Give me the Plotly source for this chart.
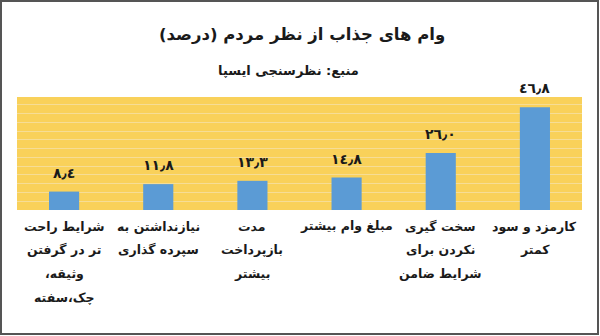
import plotly.graph_objects as go

categories = [
    "شرایط راحت<br>تر در گرفتن<br>وثیقه،\u200f<br>چک،سفته",
    "نیازنداشتن به<br>سپرده گذاری",
    "مدت<br>بازپرداخت<br>بیشتر",
    "مبلغ وام بیشتر",
    "سخت گیری<br>نکردن برای<br>شرایط ضامن",
    "کارمزد و سود<br>کمتر",
]
values = [8.4, 11.8, 13.3, 14.8, 26.0, 46.8]
title_text = "\u200fوام های جذاب از نظر مردم (درصد)\u200f"
subtitle_text = "منبع: نظرسنجی ایسپا"

digits = str.maketrans("0123456789.", "٠١٢٣٤٥٦٧٨٩٫")
value_labels = [f"{v:.1f}".translate(digits) for v in values]

W, H = 600, 336
ML, MR, MT, MB = 17, 18, 97, 126
PW, PH = W - ML - MR, H - MT - MB

FONT = "DejaVu Sans, sans-serif"
TXT = "#1a1a1a"

fig = go.Figure()
fig.add_trace(go.Bar(
    x=categories, y=values,
    marker=dict(color="#5B9BD5", line=dict(width=0)),
    hoverinfo="skip",
))

for c, v, t in zip(categories, values, value_labels):
    fig.add_annotation(x=c, y=v, text=f"<b>{t}</b>", showarrow=False,
                       yanchor="bottom", yshift=9,
                       font=dict(family=FONT, size=14, color=TXT))

# category labels, one annotation per line for wider line spacing
LINE0, LINESTEP = 16, 23.7
for c in categories:
    for i, line in enumerate(c.split("<br>")):
        fig.add_annotation(x=c, xref="x", yref="paper",
                           y=-(LINE0 + i * LINESTEP) / PH,
                           text=f"<b>{line}</b>", showarrow=False,
                           xanchor="center", yanchor="middle",
                           font=dict(family=FONT, size=12.5, color=TXT))

fig.add_annotation(xref="paper", yref="paper", x=(302 - ML) / PW, y=(MT + PH - 35) / PH,
                   text=f"<b>{title_text}</b>", showarrow=False,
                   xanchor="center", yanchor="middle",
                   font=dict(family=FONT, size=16.5, color=TXT))
fig.add_annotation(xref="paper", yref="paper", x=(288 - ML) / PW, y=(MT + PH - 70) / PH,
                   text=f"<b>{subtitle_text}</b>", showarrow=False,
                   xanchor="center", yanchor="middle",
                   font=dict(family=FONT, size=13, color=TXT))

# outer frame
fig.add_shape(type="rect", xref="paper", yref="paper",
              x0=(1 - ML) / PW, x1=(W - 2 - ML) / PW,
              y0=(MT + PH - (H - 2)) / PH, y1=(MT + PH - 1) / PH,
              line=dict(color="#555555", width=2), fillcolor="rgba(0,0,0,0)", layer="above")

fig.update_layout(
    width=W, height=H,
    margin=dict(l=ML, r=MR, t=MT, b=MB),
    paper_bgcolor="white",
    plot_bgcolor="#F9D15A",
    bargap=0.68,
    showlegend=False,
    font=dict(family=FONT, color=TXT),
)
fig.update_xaxes(
    type="category", showgrid=False, zeroline=False, showline=False,
    showticklabels=False, ticks="",
)
fig.update_yaxes(
    range=[0, 51.5], showticklabels=False, zeroline=False, showline=False,
    showgrid=True, gridcolor="#F6DD96", gridwidth=1, dtick=4, tick0=0,
    ticks="",
)

fig.write_html("out.html")
